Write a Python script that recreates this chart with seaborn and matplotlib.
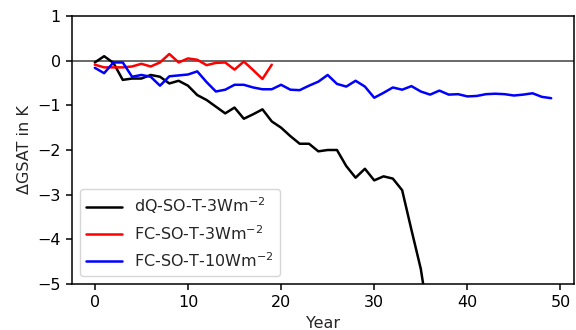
import numpy as np
import pandas as pd
import matplotlib
matplotlib.use("Agg")
import matplotlib.pyplot as plt
import seaborn as sns

# Data
dq_years = list(range(0, 37))
dq_vals = [-0.04, 0.10, -0.05, -0.43, -0.40, -0.40, -0.32, -0.36, -0.51, -0.45,
           -0.56, -0.77, -0.88, -1.03, -1.18, -1.05, -1.30, -1.20, -1.09, -1.36,
           -1.50, -1.69, -1.86, -1.86, -2.03, -2.00, -2.00, -2.36, -2.62, -2.42,
           -2.68, -2.59, -2.64, -2.90, -3.79, -4.66, -6.00]

fc3_years = list(range(0, 20))
fc3_vals = [-0.09, -0.15, -0.15, -0.15, -0.13, -0.07, -0.13, -0.04, 0.15, -0.04,
            0.05, 0.02, -0.10, -0.05, -0.04, -0.20, -0.02, -0.21, -0.41, -0.09]

fc10_years = list(range(0, 50))
fc10_vals = [-0.16, -0.28, -0.04, -0.04, -0.36, -0.32, -0.36, -0.56, -0.35, -0.33,
             -0.31, -0.24, -0.48, -0.69, -0.65, -0.54, -0.54, -0.60, -0.64, -0.64,
             -0.54, -0.65, -0.66, -0.56, -0.47, -0.32, -0.52, -0.58, -0.45, -0.58,
             -0.83, -0.72, -0.60, -0.65, -0.57, -0.69, -0.76, -0.67, -0.76, -0.75,
             -0.80, -0.79, -0.75, -0.74, -0.75, -0.78, -0.76, -0.73, -0.81, -0.84]

labels = [r"dQ-SO-T-3Wm$^{-2}$", r"FC-SO-T-3Wm$^{-2}$", r"FC-SO-T-10Wm$^{-2}$"]
colors = ["black", "red", "blue"]

sns.set_style("ticks")
plt.rcParams["font.family"] = ["DejaVu Sans"]
fs = 11.5
plt.rcParams["font.size"] = fs

fig = plt.figure(figsize=(5.76, 3.30), dpi=100)
ax = fig.add_axes([0.125, 0.1394, 0.8715, 0.8121])

series = [(dq_years, dq_vals), (fc3_years, fc3_vals), (fc10_years, fc10_vals)]
for (xs, ys), lab, col in zip(series, labels, colors):
    sns.lineplot(x=xs, y=ys, color=col, label=lab, linewidth=1.8, ax=ax)

ax.axhline(0, color="0.25", linewidth=1.1, zorder=0)
ax.set_ylim(-5, 1)
ax.set_xlim(-2.45, 51.45)
ax.set_xticks([0, 10, 20, 30, 40, 50])
ax.set_yticks([1, 0, -1, -2, -3, -4, -5])
ax.set_xlabel("Year", fontsize=fs)
ax.set_ylabel("ΔGSAT in K", fontsize=fs)
for s in ax.spines.values():
    s.set_visible(True)
    s.set_color("black")
    s.set_linewidth(1.1)
ax.tick_params(direction="out", length=4.5, width=1.1, colors="black", labelsize=fs)
leg = ax.legend(loc="lower left", fontsize=fs, frameon=True, fancybox=True,
                framealpha=0.8, edgecolor="0.8", handlelength=2.2)
fig.savefig("out.png", dpi=100)
